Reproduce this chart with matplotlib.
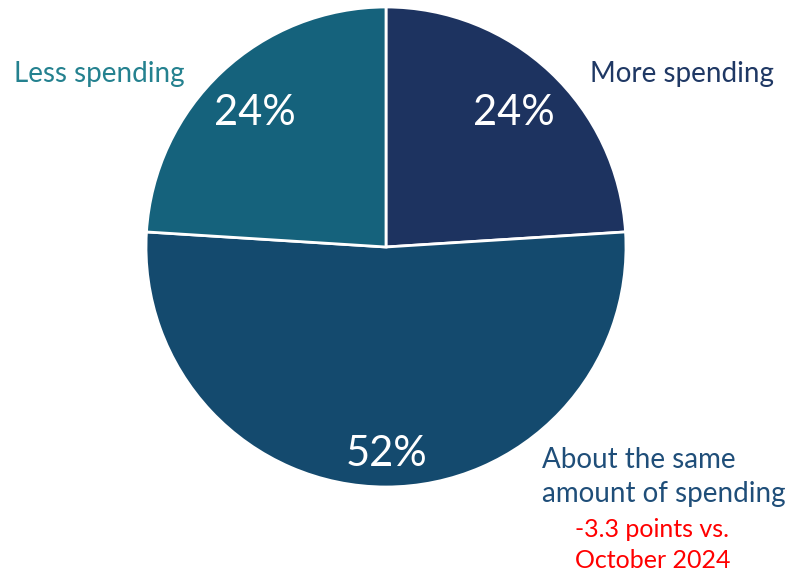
import matplotlib
matplotlib.use("Agg")
import matplotlib.pyplot as plt

# Survey shares of expected spending
categories = ["More spending", "About the same\namount of spending", "Less spending"]
shares = [24, 52, 24]
slice_colors = ["#1d3360", "#144a6e", "#15627c"]
label_colors = ["#1f3864", "#1f4e79", "#24818f"]
change_note = "-3.3 points vs.\nOctober 2024"

W, H = 792, 576
fig = plt.figure(figsize=(W / 100, H / 100), dpi=100)
ax = fig.add_axes([0, 0, 1, 1])
ax.set_xlim(0, W)
ax.set_ylim(0, H)
ax.set_aspect("equal")
ax.axis("off")

font = "Lato"

def py(y):
    return H - y

def lines(x, y0, step, text, **kw):
    for i, line in enumerate(text.split("\n")):
        ax.text(x, py(y0 + i * step), line, ha="left", va="baseline",
                family=font, **kw)

cx, cy, r = 386, py(247), 240
wedges, _ = ax.pie(shares, colors=slice_colors, startangle=90, counterclock=False,
                   center=(cx, cy), radius=r,
                   wedgeprops=dict(edgecolor="white", linewidth=2))
ax.set_xlim(0, W)
ax.set_ylim(0, H)

# percentage labels inside slices
pct_pos = [(514, 125), (387, 466), (255, 125)]
for v, (x, y) in zip(shares, pct_pos):
    ax.text(x, py(y), f"{v}%", color="white", fontsize=30, family=font,
            ha="center", va="baseline")

# category labels
lines(590, 82, 0, categories[0], color=label_colors[0], fontsize=20)
lines(542, 468, 34, categories[1], color=label_colors[1], fontsize=20)
lines(14, 82, 0, categories[2], color=label_colors[2], fontsize=20)
lines(575, 537, 31, change_note, color="#ff0000", fontsize=18)

fig.savefig("out.png", dpi=100, facecolor="white")
